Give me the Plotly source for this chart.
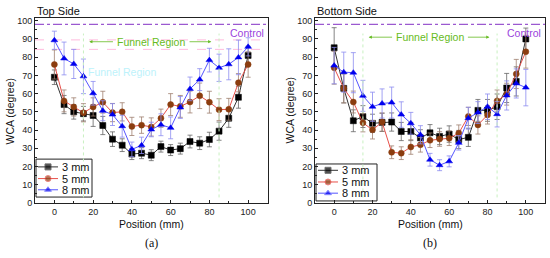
import plotly.graph_objects as go

positions = list(range(0, 105, 5))

# Top side
top_3mm = [69, 54, 50, 49, 48, 42.5, 35, 31.7, 26.8, 27.3, 26.2, 30.9, 29, 29.8, 33.7, 32.8, 34.8, 39.4, 46.5, 58, 81]
top_5mm = [76, 56, 52.7, 49.5, 52.7, 55.3, 49.6, 50, 42, 42.7, 41.7, 46.5, 54, 53, 55.4, 58.8, 55.3, 51.2, 51.4, 66, 76]
top_8mm = [89.3, 79.3, 76.3, 69.5, 60.2, 50.6, 48.5, 42.1, 29.4, 31.6, 40.3, 42.9, 41.2, 52.4, 62.6, 67.7, 78.4, 74.2, 76.1, 79.9, 85.7]
top_3mm_err = [4, 5, 4, 4, 6, 5, 4, 3.5, 3, 3, 3, 3, 3, 3, 3.5, 3.5, 4, 5, 5, 6, 5]
top_5mm_err = [8, 6, 5, 5, 5, 6, 5, 5, 5, 4.5, 5, 5, 6, 6, 6, 7, 6, 6, 6, 5, 7]
top_8mm_err = [5, 9, 8, 9.5, 6.5, 5.5, 6, 6, 4, 4.5, 4, 6, 6, 6, 6.5, 6, 6.5, 7.5, 8.5, 9.5, 5]

# Bottom side
bot_3mm = [85.2, 62.9, 45.1, 47.4, 43.7, 44.2, 44.4, 39.2, 39.2, 35.7, 38.5, 36.5, 37.8, 34.8, 36, 50.8, 50.8, 52.8, 63.1, 66.7, 90]
bot_5mm = [74.2, 62.9, 55.4, 44, 40.1, 44.4, 27.8, 27.3, 30.7, 31.9, 34.4, 35.1, 35.5, 38.3, 47.5, 42.8, 48.3, 56, 59.7, 70.8, 83]
bot_8mm = [75.4, 71.8, 71.5, 58.8, 52.8, 54.6, 55.1, 48.5, 43.7, 37.4, 23.7, 20.7, 22.8, 33, 46.5, 49.6, 52.8, 48.7, 59, 65.6, 63.3]
bot_3mm_err = [11, 8, 6, 6, 5, 5, 5, 5, 5, 4.5, 4.5, 4.5, 4.5, 5, 5, 6, 6, 7, 8, 8, 6]
bot_5mm_err = [9, 8, 6, 5, 5, 5, 3.5, 3.5, 4, 4, 4, 4, 4, 4.5, 5, 5, 5, 6, 6, 8, 9]
bot_8mm_err = [10, 11, 11, 8.5, 8, 8, 8.5, 7, 6, 5, 3.5, 3, 3, 4, 6, 6, 7, 7, 8, 8, 10]

series_names = ['3 mm', '5 mm', '8 mm']
control_wca = 98
funnel_start, funnel_end = 15, 85

W, H = 550, 258
FONT = 'Liberation Sans'

styles = [
    dict(symbol='square', mcolor='#000000', lcolor='#333333', ecolor='#666666'),
    dict(symbol='circle', mcolor='#8b3d0f', lcolor='#e8504a', ecolor='#a08070'),
    dict(symbol='triangle-up', mcolor='#0000ee', lcolor='#5555ff', ecolor='#8c8cf0'),
]


def fx(px):
    return px / W


def fy(py):
    return 1 - py / H


fig = go.Figure()

panels = [
    ('x', 'y', [top_3mm, top_5mm, top_8mm], [top_3mm_err, top_5mm_err, top_8mm_err]),
    ('x2', 'y2', [bot_3mm, bot_5mm, bot_8mm], [bot_3mm_err, bot_5mm_err, bot_8mm_err]),
]

for xa, ya, vals, errs in panels:
    for name, v, e, st in zip(series_names, vals, errs, styles):
        fig.add_trace(go.Scatter(
            x=positions, y=v, name=name, xaxis=xa, yaxis=ya, showlegend=False,
            mode='lines+markers',
            line=dict(color=st['lcolor'], width=1),
            marker=dict(symbol=st['symbol'], size=6, color=st['mcolor'],
                        line=dict(color=st['mcolor'], width=0.5)),
            error_y=dict(type='data', array=e, visible=True, color=st['ecolor'],
                         thickness=0.8, width=2.5),
        ))

# compact legend boxes (plotly's own legend is too tall at this size)
# box in pixels: x0, x1, y0, y1, row offsets
legend_boxes = [
    ('x3', 'y3', 36, 92, 161.5, 200.5, [8, 20, 31.5]),
    ('x4', 'y4', 316, 377, 166.5, 204.5, [6.5, 18.5, 30]),
]
legend_axes = {}
shapes = []
annotations = []
for lx, ly, x0, x1, y0, y1, rows in legend_boxes:
    n = lx[1:]
    legend_axes['xaxis' + n] = dict(domain=[fx(x0), fx(x1)], range=[0, x1 - x0], visible=False,
                                   anchor=ly, fixedrange=True)
    legend_axes['yaxis' + n] = dict(domain=[fy(y1), fy(y0)], range=[y1 - y0, 0], visible=False,
                                   anchor=lx, fixedrange=True)
    shapes.append(dict(type='rect', xref='paper', yref='paper', x0=fx(x0), x1=fx(x1), y0=fy(y1), y1=fy(y0),
                       line=dict(color='#222222', width=1), fillcolor='white', layer='below'))
    for name, r, st in zip(series_names, rows, styles):
        fig.add_trace(go.Scatter(
            x=[2, 12, 22], y=[r, r, r], xaxis=lx, yaxis=ly, showlegend=False, hoverinfo='skip',
            mode='lines+markers', line=dict(color=st['lcolor'], width=1),
            marker=dict(symbol=st['symbol'], size=[0, 6, 0], color=st['mcolor']),
        ))
        annotations.append(dict(xref=lx, yref=ly, x=24, y=r, text=name, showarrow=False,
                                xanchor='left', yanchor='middle',
                                font=dict(family=FONT, size=11, color='#111')))

ax_common = dict(
    showline=True, linecolor='#222222', linewidth=1, mirror=True,
    ticks='inside', ticklen=3, tickcolor='#222222', showgrid=False, zeroline=False,
    tickfont=dict(family=FONT, size=9, color='#222222'),
)
xminor = dict(ticks='inside', ticklen=2, tickcolor='#222222', dtick=10)
yminor = dict(ticks='inside', ticklen=2, tickcolor='#222222', dtick=5)

fig.update_layout(
    width=W, height=H,
    margin=dict(l=0, r=0, t=0, b=0),
    paper_bgcolor='white', plot_bgcolor='rgba(0,0,0,0)',
    showlegend=False,
    xaxis=dict(domain=[fx(35), fx(267.5)], range=[-10, 110], tickvals=[0, 20, 40, 60, 80, 100],
               minor=xminor, anchor='y', **ax_common),
    yaxis=dict(domain=[fy(206.5), fy(16.5)], range=[0, 101.5], dtick=10,
               minor=yminor, anchor='x', **ax_common),
    xaxis2=dict(domain=[fx(315), fx(545)], range=[-10, 110], tickvals=[0, 20, 40, 60, 80, 100],
                minor=xminor, anchor='y2', **ax_common),
    yaxis2=dict(domain=[fy(206.5), fy(16.5)], range=[0, 101.5], dtick=10,
                minor=yminor, anchor='x2', **ax_common),
    **legend_axes,
)

for xa, ya, title, cap, funnel_y, ctrl_x in [('x', 'y', 'Top Side', '(a)', 88.5, 109),
                                             ('x2', 'y2', 'Bottom Side', '(b)', 91, 109)]:
    # control line
    shapes.append(dict(type='line', xref=xa, yref=ya, x0=-10, x1=110, y0=control_wca, y1=control_wca,
                       line=dict(color='#9b59d0', width=1.2, dash='dashdot')))
    # funnel boundaries
    for fxv in (funnel_start, funnel_end):
        shapes.append(dict(type='line', xref=xa, yref=ya, x0=fxv, x1=fxv, y0=3, y1=93,
                           line=dict(color='#c8f0c0', width=1, dash='dot')))
    annotations.append(dict(xref=xa, yref=ya, x=50, y=funnel_y, text='Funnel Region', showarrow=False,
                            font=dict(family=FONT, size=10.5, color='#66bb22')))
    annotations.append(dict(xref=xa, yref=ya, axref=xa, ayref=ya, x=funnel_start + 3, y=funnel_y,
                            ax=31, ay=funnel_y, text='', showarrow=True, arrowhead=2, arrowsize=0.8,
                            arrowwidth=0.8, arrowcolor='#66bb22'))
    annotations.append(dict(xref=xa, yref=ya, axref=xa, ayref=ya, x=funnel_end - 4, y=funnel_y,
                            ax=69, ay=funnel_y, text='', showarrow=True, arrowhead=2, arrowsize=0.8,
                            arrowwidth=0.8, arrowcolor='#66bb22'))
    annotations.append(dict(xref=xa, yref=ya, x=ctrl_x, y=93.5, text='Control', showarrow=False,
                            xanchor='right', font=dict(family=FONT, size=10.5, color='#9b44dd')))
    dom = fig.layout['xaxis' if xa == 'x' else 'xaxis2'].domain
    left_px = dom[0] * W
    mid_px = (dom[0] + dom[1]) / 2 * W
    annotations.append(dict(xref='paper', yref='paper', x=left_px / W, y=fy(9), text=title,
                            showarrow=False, xanchor='left', yanchor='middle',
                            font=dict(family=FONT, size=11, color='#111')))
    annotations.append(dict(xref='paper', yref='paper', x=mid_px / W, y=fy(228), text='Position (mm)',
                            showarrow=False, xanchor='center', yanchor='middle',
                            font=dict(family=FONT, size=10.5, color='#111')))
    annotations.append(dict(xref='paper', yref='paper', x=(left_px - 25) / W, y=fy(111.5), text='WCA (degree)',
                            showarrow=False, textangle=-90, xanchor='center', yanchor='middle',
                            font=dict(family=FONT, size=10.5, color='#111')))
    annotations.append(dict(xref='paper', yref='paper', x=mid_px / W, y=fy(248), text=cap,
                            showarrow=False, xanchor='center', yanchor='middle',
                            font=dict(family='Liberation Serif', size=12, color='#111')))

# faint ghost overlays visible on the top-side panel
for gy in (89.5, 84.3):
    shapes.append(dict(type='line', xref='x', yref='y', x0=-10, x1=110, y0=gy, y1=gy, layer='below',
                       line=dict(color='#ffbbdd', width=1, dash='dash')))
annotations.append(dict(xref='x', yref='y', x=35, y=72, text='Funnel Region', showarrow=False,
                        font=dict(family=FONT, size=10.5, color='#bdf2fb')))

fig.update_layout(shapes=shapes, annotations=annotations)

# drop the default page margin so the figure sits at the window's corner
fig.write_html("out.html", config={'displayModeBar': False},
               post_script="document.body.style.margin='0';document.body.style.overflow='hidden';")
